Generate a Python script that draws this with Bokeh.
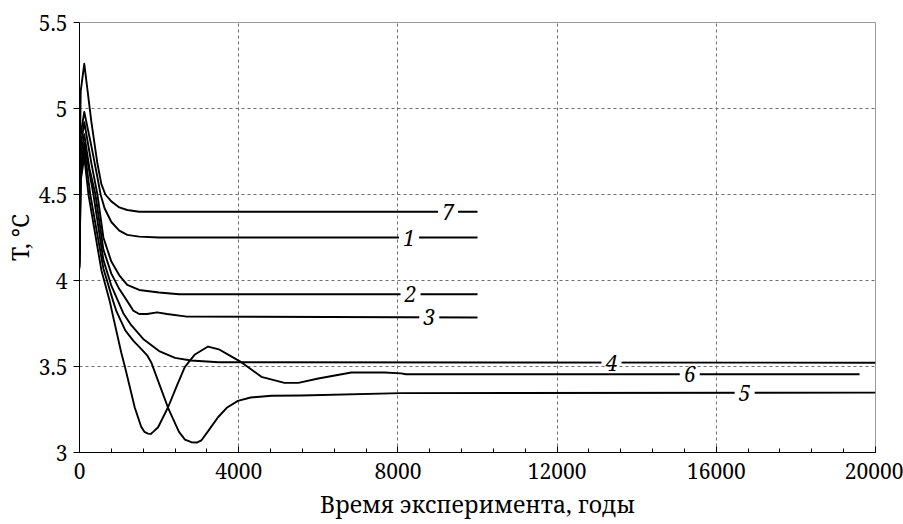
import math
from bokeh.plotting import figure
from bokeh.models import (FixedTicker, CustomJSTickFormatter, Range1d,
                          ColumnDataSource)
from bokeh.core.properties import value
from bokeh.embed import file_html
from bokeh.resources import INLINE

# ---------------- data ----------------
t1 = [0, 30, 120, 300, 450, 530, 630, 800, 1000, 1200, 1500, 2000, 10000]
T1 = [4.30, 4.85, 4.98, 4.78, 4.60, 4.50, 4.42, 4.34, 4.29, 4.265, 4.255, 4.25, 4.25]

t2 = [0, 30, 120, 300, 450, 600, 800, 1000, 1200, 1500, 2000, 2500, 10000]
T2 = [4.20, 4.78, 4.92, 4.68, 4.50, 4.25, 4.11, 4.03, 3.975, 3.945, 3.93, 3.92, 3.92]

t3 = [0, 30, 120, 250, 400, 600, 800, 1000, 1200, 1350, 1500, 1700, 1950, 2200, 2700, 10000]
T3 = [4.15, 4.72, 4.85, 4.65, 4.50, 4.18, 4.04, 3.95, 3.88, 3.825, 3.805, 3.805, 3.815, 3.805, 3.79, 3.785]

t4 = [0, 30, 120, 350, 600, 800, 1100, 1300, 1600, 2000, 2400, 2800, 3500, 20000]
T4 = [4.10, 4.66, 4.80, 4.50, 4.12, 3.97, 3.81, 3.74, 3.66, 3.59, 3.55, 3.535, 3.525, 3.522]

t5 = [0, 30, 120, 270, 600, 845, 930, 1150, 1350, 1560, 1700, 1810, 2000, 2225, 2500,
      2650, 2810, 2950, 3060, 3250, 3480, 3700, 3980, 4300, 4820, 5570, 8080, 20000]
T5 = [4.07, 4.62, 4.77, 4.50, 4.07, 3.88, 3.82, 3.71, 3.65, 3.60, 3.565, 3.52, 3.40, 3.26, 3.12,
      3.075, 3.06, 3.058, 3.07, 3.13, 3.205, 3.26, 3.30, 3.32, 3.33, 3.331, 3.345, 3.348]

t6 = [0, 30, 120, 225, 550, 760, 845, 1050, 1140, 1390, 1550, 1630, 1720, 1790, 1850, 1975,
      2225, 2450, 2645, 2900, 3230, 3500, 3800, 4065, 4570, 5150, 5500, 6000, 6830, 7660,
      8080, 8200, 19600]
T6 = [4.08, 4.58, 4.72, 4.50, 4.06, 3.88, 3.79, 3.58, 3.50, 3.26, 3.15, 3.12, 3.11, 3.108, 3.12, 3.147,
      3.263, 3.39, 3.496, 3.57, 3.616, 3.60, 3.56, 3.525, 3.44, 3.405, 3.405, 3.43, 3.465, 3.465,
      3.46, 3.455, 3.455]

t7 = [0, 30, 120, 300, 450, 550, 650, 800, 1000, 1200, 1500, 10000]
T7 = [4.55, 5.10, 5.26, 4.92, 4.68, 4.56, 4.50, 4.46, 4.425, 4.41, 4.40, 4.40]

curve_names = ["7", "1", "2", "3", "4", "6", "5"]
label_t = [9260, 8280, 8318, 8788, 13367, 15333, 16713]
label_T = [4.40, 4.25, 3.92, 3.785, 3.522, 3.455, 3.348]

x_ticks = [0, 4000, 8000, 12000, 16000, 20000]
y_ticks = [3, 3.5, 4, 4.5, 5, 5.5]

x_title = "Время эксперимента, годы"
y_title = "T, °C"

FONT = "Noto Serif"

# ---------------- figure ----------------
p = figure(width=903, height=524, output_backend="svg", toolbar_location=None,
           x_range=Range1d(0, 20000), y_range=Range1d(3, 5.5),
           min_border_left=78, min_border_right=28, min_border_top=22,
           min_border_bottom=72)
p.background_fill_color = "white"
p.border_fill_color = "white"
p.outline_line_color = "#9a9a9a"
p.outline_line_width = 1

fmt = CustomJSTickFormatter(code="return tick.toString();")

p.xaxis.ticker = FixedTicker(ticks=x_ticks, minor_ticks=list(range(0, 20001, 800)))
p.xaxis.formatter = fmt
p.xaxis.major_tick_in = 6
p.xaxis.major_tick_out = 0
p.xaxis.minor_tick_in = 4
p.xaxis.minor_tick_out = 0
p.xaxis.axis_line_color = "black"
p.xaxis.major_tick_line_color = "black"
p.xaxis.minor_tick_line_color = "black"
p.xaxis.major_label_text_font = "'Noto Serif'"
p.xaxis.major_label_text_font_style = "normal"
p.xaxis.major_label_text_font_size = "21px"
p.xaxis.major_label_text_color = "black"
p.xaxis.major_label_standoff = 10
p.xaxis.axis_label = x_title
p.xaxis.axis_label_text_font = FONT
p.xaxis.axis_label_text_font_size = "23px"
p.xaxis.axis_label_text_font_style = "normal"
p.xaxis.axis_label_text_color = "black"
p.xaxis.axis_label_standoff = 6

p.yaxis.ticker = FixedTicker(ticks=y_ticks, minor_ticks=[])
p.yaxis.formatter = fmt
p.yaxis.major_tick_in = 0
p.yaxis.major_tick_out = 6
p.yaxis.minor_tick_line_color = None
p.yaxis.axis_line_color = "black"
p.yaxis.major_tick_line_color = "black"
p.yaxis.major_label_text_font = '"Noto Serif"'
p.yaxis.major_label_text_font_size = "21px"
p.yaxis.major_label_text_color = "black"
p.yaxis.major_label_standoff = 6
p.yaxis.axis_label = y_title
p.yaxis.axis_label_text_font = FONT
p.yaxis.axis_label_text_font_size = "23px"
p.yaxis.axis_label_text_font_style = "normal"
p.yaxis.axis_label_text_color = "black"
p.yaxis.axis_label_standoff = 0

for g in (p.xgrid[0], p.ygrid[0]):
    g.grid_line_color = "#6e6e6e"
    g.grid_line_dash = "3 3"
    g.grid_line_width = 1
p.xgrid[0].ticker = FixedTicker(ticks=x_ticks)
p.ygrid[0].ticker = FixedTicker(ticks=y_ticks)

series = [(t1, T1), (t2, T2), (t3, T3), (t4, T4), (t5, T5), (t6, T6), (t7, T7)]
for tt, TT in series:
    p.line(tt, TT, line_color="black", line_width=1.9, line_join="round")

lab_src = ColumnDataSource(dict(x=label_t, y=label_T, text=curve_names))
p.rect(x="x", y="y", width=20, height=6, width_units="screen", height_units="screen",
       source=lab_src, fill_color="white", line_color=None)
p.text(x="x", y="y", text="text", source=lab_src, text_font=value(FONT),
       text_font_style="italic", text_font_size="21px", text_color="black",
       text_align="center", text_baseline="middle")

open("out.html", "w").write(file_html(p, INLINE))
